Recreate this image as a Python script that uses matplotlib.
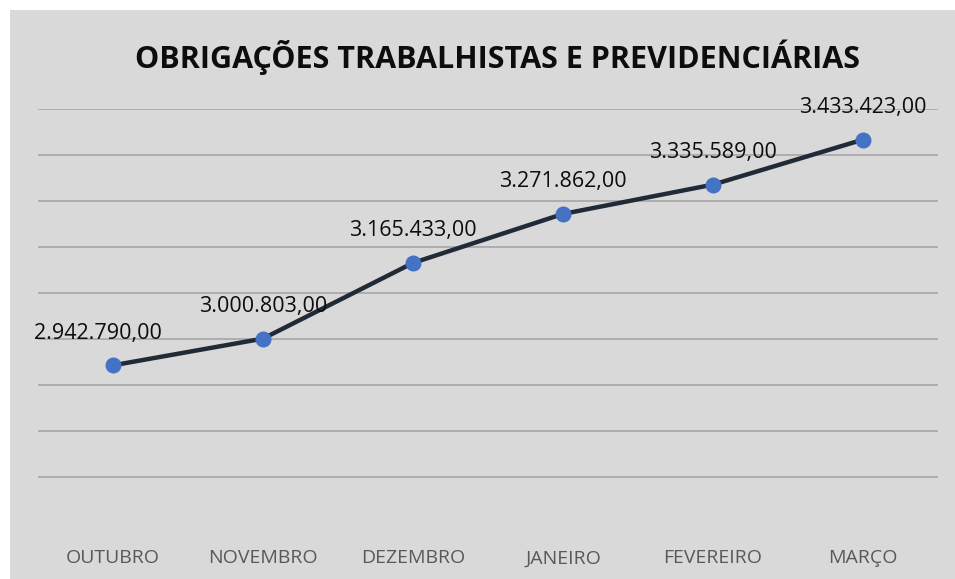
"""Obrigações trabalhistas e previdenciárias - line chart."""

import matplotlib

matplotlib.use("Agg")
import matplotlib.pyplot as plt

months = ["OUTUBRO", "NOVEMBRO", "DEZEMBRO", "JANEIRO", "FEVEREIRO", "MARÇO"]
values = [2942790.00, 3000803.00, 3165433.00, 3271862.00, 3335589.00, 3433423.00]
grid_ticks = [2700000, 2800000, 2900000, 3000000, 3100000, 3200000, 3300000, 3400000, 3500000]


def fmt_br(v):
    s = f"{v:,.2f}"
    return s.replace(",", "X").replace(".", ",").replace("X", ".")


def main() -> None:
    plt.rcParams["font.family"] = ["Open Sans", "DejaVu Sans"]

    fig = plt.figure(figsize=(9.55, 5.79), dpi=100)
    fig.patch.set_facecolor("white")
    # gray chart area
    bg = fig.add_axes([10 / 955, 0, 945 / 955, 569 / 579])
    bg.set_facecolor("#d9d9d9")
    bg.set_xticks([])
    bg.set_yticks([])
    for s in bg.spines.values():
        s.set_visible(False)

    ax = fig.add_axes([38 / 955, 1 - 523 / 579, 900 / 955, 414 / 579])
    ax.set_facecolor("none")
    x = range(len(months))
    ax.plot(x, values, color="#212b38", linewidth=3.2, marker="o",
            markersize=10.5, markerfacecolor="#4472c4", markeredgecolor="#4472c4",
            zorder=3, solid_capstyle="round")

    for i, v in enumerate(values):
        dx = -11 if i == 0 else 0
        ax.annotate(fmt_br(v), (i, v), xytext=(dx, 23), textcoords="offset points",
                    ha="center", va="center", fontsize=15.5, color="#0d0d0d")

    ax.set_xlim(-0.5, len(months) - 0.5)
    ax.set_ylim(2600000, 3500000)
    ax.set_yticks(grid_ticks)
    ax.set_yticklabels([])
    ax.tick_params(axis="y", length=0)
    ax.grid(axis="y", color="#a6a6a6", linewidth=1.2)
    ax.set_axisbelow(True)
    ax.set_xticks(list(x))
    ax.set_xticklabels(months, fontsize=14, color="#595959")
    ax.tick_params(axis="x", length=0, pad=19)
    for s in ax.spines.values():
        s.set_visible(False)

    fig.text(497 / 955, 1 - 57 / 579, "OBRIGAÇÕES TRABALHISTAS E PREVIDENCIÁRIAS",
             ha="center", va="center", fontsize=22, fontweight="bold", color="#0d0d0d")

    fig.savefig("out.png", dpi=100)
    plt.close(fig)


if __name__ == "__main__":
    main()
